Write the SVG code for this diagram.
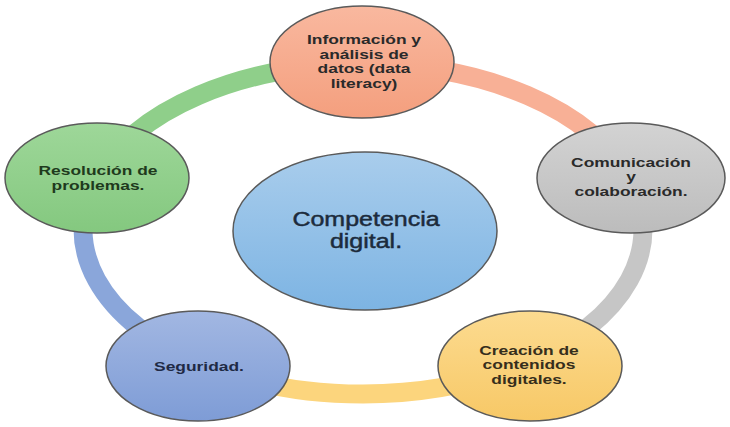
<svg xmlns="http://www.w3.org/2000/svg" width="730" height="427" viewBox="0 0 730 427">
<defs>
<linearGradient id="gOrange" x1="0" y1="0" x2="0" y2="1"><stop offset="0" stop-color="#f9b89f"/><stop offset="1" stop-color="#f49f7e"/></linearGradient>
<linearGradient id="gGrey" x1="0" y1="0" x2="0" y2="1"><stop offset="0" stop-color="#d3d3d3"/><stop offset="1" stop-color="#bcbcbc"/></linearGradient>
<linearGradient id="gGreen" x1="0" y1="0" x2="0" y2="1"><stop offset="0" stop-color="#9ed799"/><stop offset="1" stop-color="#84c87f"/></linearGradient>
<linearGradient id="gBlue" x1="0" y1="0" x2="0" y2="1"><stop offset="0" stop-color="#a2b7e2"/><stop offset="1" stop-color="#7e9cd6"/></linearGradient>
<linearGradient id="gYellow" x1="0" y1="0" x2="0" y2="1"><stop offset="0" stop-color="#fcdb90"/><stop offset="1" stop-color="#f7c866"/></linearGradient>
<linearGradient id="gCenter" x1="0" y1="0" x2="0" y2="1"><stop offset="0" stop-color="#a9cdec"/><stop offset="1" stop-color="#7db4e3"/></linearGradient>
</defs>
<style>
.band{fill:none;stroke-width:19;stroke-linecap:butt}
.node{stroke:#5a5a5a;stroke-width:1.5}
.lbl{font-family:"Liberation Sans",Arial,sans-serif;font-weight:bold;font-size:12.8px;fill:#2a2a2a;text-anchor:middle}
.clbl{font-family:"Liberation Sans",Arial,sans-serif;font-size:20px;fill:#1c2b3c;stroke:#1c2b3c;stroke-width:0.45;text-anchor:middle}
</style>
<rect width="730" height="427" fill="#ffffff"/>
<g id="connectors">
<path class="band" stroke="#f8b096" d="M363,64 A280,165 0 0 1 629.3,178"/>
<path class="band" stroke="#c6c6c6" d="M629.3,178 A280,165 0 0 1 527.6,362.5"/>
<path class="band" stroke="#fcd57d" d="M527.6,362.5 A280,165 0 0 1 198.4,362.5"/>
<path class="band" stroke="#8aa6da" d="M198.4,362.5 A280,165 0 0 1 96.7,178"/>
<path class="band" stroke="#8fcf8a" d="M96.7,178 A280,165 0 0 1 363,64"/>
</g>
<g id="node-informacion">
<ellipse class="node" cx="362" cy="62" rx="92" ry="56" fill="url(#gOrange)"/>
<text class="lbl" transform="translate(364,0) scale(1.36,1)"><tspan x="0" y="44.5">Información y</tspan><tspan x="0" y="59">análisis de</tspan><tspan x="0" y="73.5">datos (data</tspan><tspan x="0" y="88">literacy)</tspan></text>
</g>
<g id="node-comunicacion">
<ellipse class="node" cx="631" cy="178" rx="94" ry="55" fill="url(#gGrey)"/>
<text class="lbl" transform="translate(631,0) scale(1.36,1)"><tspan x="0" y="167">Comunicación</tspan><tspan x="0" y="181.5">y</tspan><tspan x="0" y="196">colaboración.</tspan></text>
</g>
<g id="node-creacion">
<ellipse class="node" cx="530" cy="366" rx="92" ry="55" fill="url(#gYellow)"/>
<text class="lbl" style="fill:#362e1c" transform="translate(529,0) scale(1.36,1)"><tspan x="0" y="355">Creación de</tspan><tspan x="0" y="369.5">contenidos</tspan><tspan x="0" y="384">digitales.</tspan></text>
</g>
<g id="node-seguridad">
<ellipse class="node" cx="198" cy="366" rx="92" ry="55" fill="url(#gBlue)"/>
<text class="lbl" style="fill:#1f2a45" transform="translate(199,0) scale(1.36,1)" x="0" y="371">Seguridad.</text>
</g>
<g id="node-resolucion">
<ellipse class="node" cx="97" cy="178" rx="92" ry="55" fill="url(#gGreen)"/>
<text class="lbl" style="fill:#1f3a1d" transform="translate(98,0) scale(1.36,1)"><tspan x="0" y="175.5">Resolución de</tspan><tspan x="0" y="190">problemas.</tspan></text>
</g>
<g id="node-competencia">
<ellipse class="node" cx="365" cy="231" rx="132" ry="79" fill="url(#gCenter)"/>
<text class="clbl" transform="translate(366,0) scale(1.25,1)"><tspan x="0" y="226">Competencia</tspan><tspan x="0" y="248.5">digital.</tspan></text>
</g>
</svg>
